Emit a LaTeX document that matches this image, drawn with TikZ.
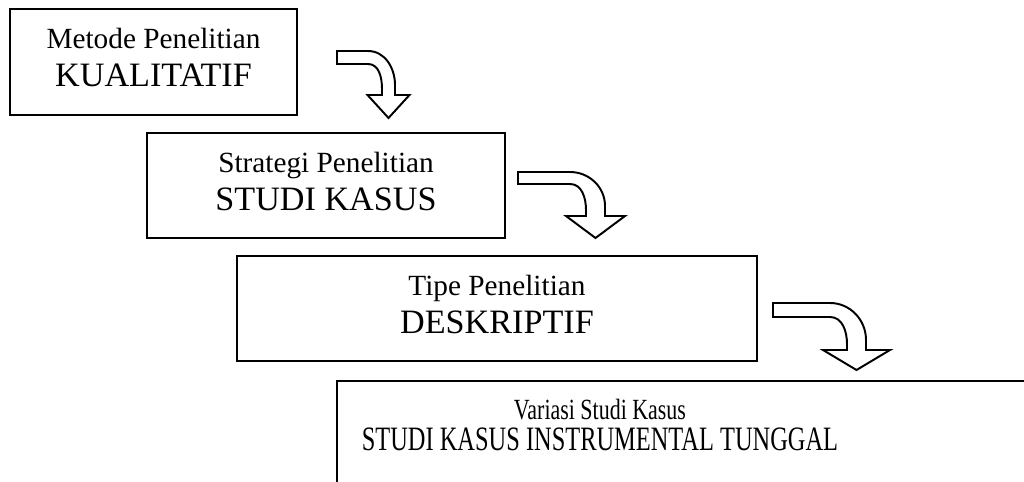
\documentclass[tikz,border=0pt]{standalone}
\usepackage{fontspec}
\setmainfont{Liberation Serif}
\usepackage{graphicx}
\usetikzlibrary{calc}

\newcommand{\stagetitle}[1]{\fontsize{14}{15.5}\selectfont #1}
% block arrow: left, top, bottom, bend start, inner x, outer x, head top, head half width, tip
\newcommand{\bentarrow}[9]{%
  \draw[bendarrow] (#1,#2) -- (#4,#2) to[out=0,in=90] (#6,#7+10) -- (#6,#7)
    -- ({(#5+#6)/2+#8},#7) -- ({(#5+#6)/2},#9) -- ({(#5+#6)/2-#8},#7)
    -- (#5,#7) -- (#5,#7+6) to[out=90,in=0] (#4,#3) -- (#1,#3) -- cycle;}

\begin{document}
\begin{tikzpicture}[x=0.4098pt,y=0.4098pt,
    stage/.style={draw,line width=0.8pt,inner sep=0pt,align=center,
        font=\fontsize{12}{15.5}\selectfont},
    bendarrow/.style={draw,fill=white,line width=0.8pt}]
\useasboundingbox (0,0) rectangle (1024,481);

% boxes
\node[stage,minimum width=117.6pt,minimum height=43.4pt] (metode) at (153.5,419)
    {Metode Penelitian\\\stagetitle{KUALITATIF}\\[-12pt]};
\node[stage,minimum width=146.7pt,minimum height=43pt] (strategi) at (326,295.5)
    {Strategi Penelitian\\\stagetitle{STUDI KASUS}\\[-12pt]};
\node[stage,minimum width=213.1pt,minimum height=43pt] (tipe) at (497,172.5)
    {Tipe Penelitian\\\stagetitle{DESKRIPTIF}\\[-12pt]};

% last box runs off the page
\node[align=center,inner sep=0pt,font=\fontsize{12}{13.1}\selectfont] (variasi) at (600,56)
    {\scalebox{0.75}[1]{Variasi Studi Kasus}\\
     \scalebox{0.715}[1]{\stagetitle{STUDI KASUS INSTRUMENTAL TUNGGAL}}};
\draw[line width=0.8pt] (337,-10) |- (1040,100);

% arrows
\bentarrow{337}{430}{417}{368}{382}{395}{386}{21}{363}
\bentarrow{518}{309}{297}{570}{586}{605}{265}{29.5}{243}
\bentarrow{773}{178}{164}{830}{847}{866}{131}{33.5}{111}
\end{tikzpicture}
\end{document}
